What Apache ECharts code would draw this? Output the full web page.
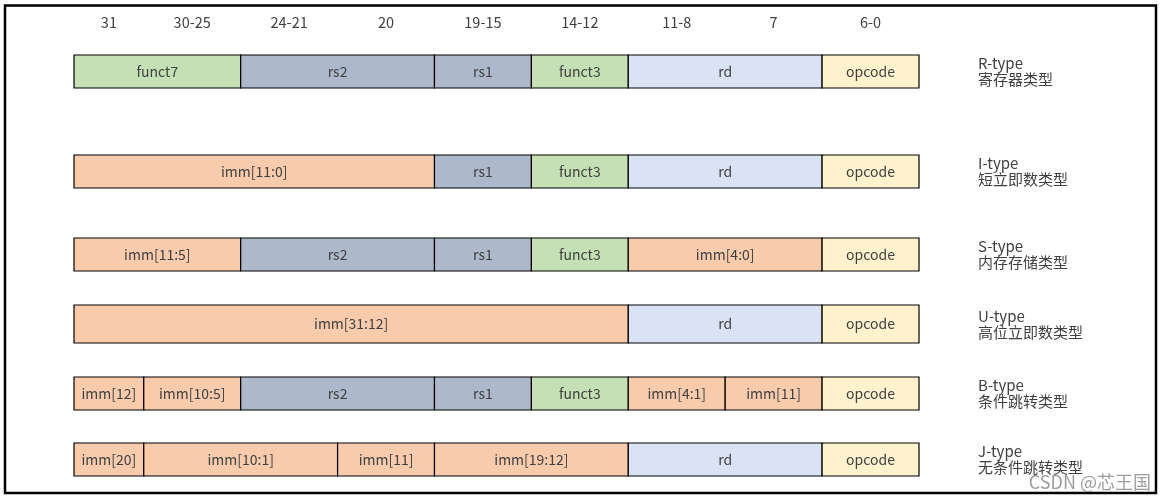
<!DOCTYPE html>
<html>
<head>
<meta charset="utf-8">
<script src="https://cdn.jsdelivr.net/npm/echarts@6/dist/echarts.min.js"></script>
<style>html,body{margin:0;padding:0;background:#fff}#c{width:1163px;height:501px}</style>
</head>
<body>
<div id="c"></div>
<script>
// ---------- data ----------
const bitColumns = ['31', '30-25', '24-21', '20', '19-15', '14-12', '11-8', '7', '6-0'];
const rowTypes = ['R-type', 'I-type', 'S-type', 'U-type', 'B-type', 'J-type'];
const rowNames = ['寄存器类型', '短立即数类型', '内存存储类型', '高位立即数类型', '条件跳转类型', '无条件跳转类型'];
const rFields = ['funct7', 'rs2', 'rs1', 'funct3', 'rd', 'opcode'];
const rSpans = [2, 2, 1, 1, 2, 1];
const iFields = ['imm[11:0]', 'rs1', 'funct3', 'rd', 'opcode'];
const iSpans = [4, 1, 1, 2, 1];
const sFields = ['imm[11:5]', 'rs2', 'rs1', 'funct3', 'imm[4:0]', 'opcode'];
const sSpans = [2, 2, 1, 1, 2, 1];
const uFields = ['imm[31:12]', 'rd', 'opcode'];
const uSpans = [6, 2, 1];
const bFields = ['imm[12]', 'imm[10:5]', 'rs2', 'rs1', 'funct3', 'imm[4:1]', 'imm[11]', 'opcode'];
const bSpans = [1, 1, 2, 1, 1, 1, 1, 1];
const jFields = ['imm[20]', 'imm[10:1]', 'imm[11]', 'imm[19:12]', 'rd', 'opcode'];
const jSpans = [1, 2, 1, 2, 2, 1];
const watermark = 'CSDN @芯王国';

// ---------- layout & style ----------
const colWidths = [0.72, 1, 1, 1, 1, 1, 1, 1, 1];
const rowCenters = [71.5, 171.5, 254.5, 324, 393.5, 459.5];
const rowHeights = [33, 33, 33, 38, 33, 33];
const headerY = 22;
const sideLabelGap = 0.61;
const FONT = "'Noto Sans CJK SC', 'Noto Sans', sans-serif";
const kindColors = {
  funct: '#C5E0B4',
  rs: '#ADB9CA',
  rd: '#DAE3F3',
  opcode: '#FFF2CC',
  imm: '#F8CBAD'
};
function kindOf(name) {
  if (name.startsWith('funct')) return 'funct';
  if (name.startsWith('rs')) return 'rs';
  if (name === 'rd') return 'rd';
  if (name === 'opcode') return 'opcode';
  return 'imm';
}

// column boundaries
const colEdges = [0];
colWidths.forEach(w => colEdges.push(colEdges[colEdges.length - 1] + w));
const totalWidth = colEdges[colEdges.length - 1];

const allFields = [rFields, iFields, sFields, uFields, bFields, jFields];
const allSpans = [rSpans, iSpans, sSpans, uSpans, bSpans, jSpans];

const fieldData = [];
allFields.forEach((fields, r) => {
  let col = 0;
  fields.forEach((name, i) => {
    const span = allSpans[r][i];
    fieldData.push([colEdges[col], colEdges[col + span], r, name]);
    col += span;
  });
});

const headerData = bitColumns.map((lab, i) => [(colEdges[i] + colEdges[i + 1]) / 2, lab]);
const sideData = rowTypes.map((t, i) => [totalWidth + sideLabelGap, i, t, rowNames[i]]);

const chart = echarts.init(document.getElementById('c'), null, { renderer: 'canvas' });
chart.setOption({
  backgroundColor: '#ffffff',
  animation: false,
  grid: { left: 74, width: 845, top: 0, bottom: 0 },
  xAxis: { type: 'value', min: 0, max: totalWidth, show: false },
  yAxis: { type: 'value', min: 0, max: 501, inverse: true, show: false },
  series: [
    {
      type: 'custom',
      clip: false,
      data: fieldData,
      renderItem: function (params, api) {
        const r = api.value(2);
        const name = fieldData[params.dataIndex][3];
        const c = rowCenters[r], h = rowHeights[r];
        const p0 = api.coord([api.value(0), c - h / 2]);
        const p1 = api.coord([api.value(1), c + h / 2]);
        return {
          type: 'group',
          children: [
            {
              type: 'rect',
              shape: { x: p0[0], y: p0[1], width: p1[0] - p0[0], height: p1[1] - p0[1] },
              style: { fill: kindColors[kindOf(name)], stroke: '#000', lineWidth: 1.2 }
            },
            {
              type: 'text',
              x: (p0[0] + p1[0]) / 2,
              y: (p0[1] + p1[1]) / 2,
              style: { text: name, fill: '#404040', font: '14px ' + FONT, align: 'center', verticalAlign: 'middle' }
            }
          ]
        };
      }
    },
    {
      type: 'custom',
      clip: false,
      data: headerData,
      renderItem: function (params, api) {
        const p = api.coord([api.value(0), headerY]);
        return {
          type: 'text', x: p[0], y: p[1],
          style: { text: headerData[params.dataIndex][1], fill: '#404040', font: '14.5px ' + FONT, align: 'center', verticalAlign: 'middle' }
        };
      }
    },
    {
      type: 'custom',
      clip: false,
      data: sideData,
      renderItem: function (params, api) {
        const d = sideData[params.dataIndex];
        const p = api.coord([d[0], rowCenters[d[1]]]);
        return {
          type: 'text', x: p[0], y: p[1],
          style: { text: d[2] + '\n' + d[3], fill: '#404040', font: '15px ' + FONT, lineHeight: 16, align: 'left', verticalAlign: 'middle' }
        };
      }
    }
  ],
  graphic: [
    { type: 'rect', shape: { x: 5, y: 5.5, width: 1151, height: 487.5 }, style: { fill: 'none', stroke: '#000', lineWidth: 2.5 } },
    { type: 'text', right: 12, bottom: 10, style: { text: watermark, fill: 'rgba(140,140,140,0.85)', font: '18px ' + FONT } }
  ]
});
</script>
</body>
</html>
